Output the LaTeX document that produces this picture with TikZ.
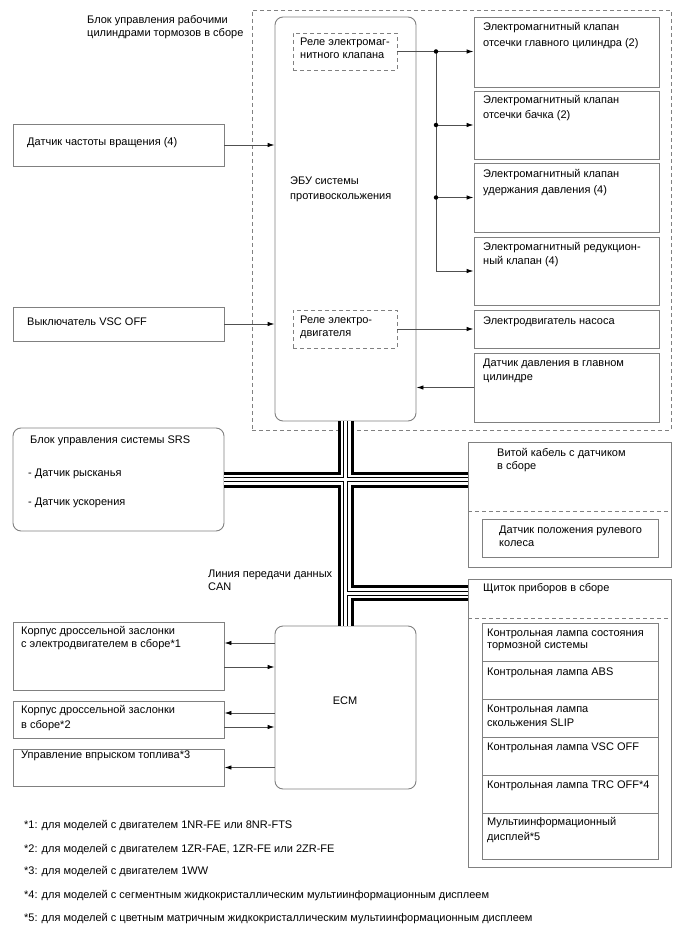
\documentclass[tikz,border=0pt]{standalone}
\usepackage{fontspec}
\setmainfont{Liberation Sans}
\usetikzlibrary{arrows.meta,fit}
\definecolor{boxgray}{HTML}{808080}
\definecolor{linegray}{HTML}{505050}
\begin{document}
\begin{tikzpicture}[x=1pt,y=-1pt,
  box/.style={draw=boxgray, line width=0.9pt, inner sep=0pt, rectangle},
  rbox/.style={box, rounded corners=8pt},
  dbox/.style={draw=boxgray, line width=0.9pt, dash pattern=on 4pt off 3pt, inner sep=0pt, rectangle},
  sep/.style={draw=boxgray, line width=0.9pt, dash pattern=on 4pt off 3pt},
  txt/.style={inner sep=0pt, anchor=north west, align=left, font=\fontsize{11}{13}\selectfont},
  conn/.style={draw=linegray, line width=0.9pt},
  arr/.style={conn, -{Latex[length=7pt,width=4.5pt,color=black]}},
  dot/.style={circle, fill=black, inner sep=0pt, minimum size=4.5pt},
]
\useasboundingbox (0,0) rectangle (688,949);

% ---- brake actuator group ----
\node[txt] (title) at (87,15.5) {Блок управления рабочими\\цилиндрами тормозов в сборе};
\node[dbox, fit={(252,10) (671,430)}] (actuator) {};
\node[rbox, fit={(275,17) (416,421)}] (ecu) {};
\node[txt, font=\fontsize{11}{15}\selectfont] (ecutxt) at (290,176.5) {ЭБУ системы\\противоскольжения};
\node[dbox, fit={(293,33) (397,70)}] (relay1) {};
\node[txt, font=\fontsize{11}{12.5}\selectfont] (relay1txt) at (300,38) {Реле электромаг-\\нитного клапана};
\node[dbox, fit={(293,310) (397,348)}] (relay2) {};
\node[txt] (relay2txt) at (300,315.5) {Реле электро-\\двигателя};

\node[box, fit={(474,17) (659,87)}] (r1) {};
\node[txt, font=\fontsize{11}{16}\selectfont] (r1txt) at (483,22.5) {Электромагнитный клапан\\отсечки главного цилиндра (2)};
\node[box, fit={(474,91) (659,159)}] (r2) {};
\node[txt, font=\fontsize{11}{15}\selectfont] (r2txt) at (483,95.5) {Электромагнитный клапан\\отсечки бачка (2)};
\node[box, fit={(474,163) (659,232)}] (r3) {};
\node[txt, font=\fontsize{11}{16}\selectfont] (r3txt) at (483,169.5) {Электромагнитный клапан\\удержания давления (4)};
\node[box, fit={(474,237) (659,305)}] (r4) {};
\node[txt, font=\fontsize{11}{14}\selectfont] (r4txt) at (483,242.5) {Электромагнитный редукцион-\\ный клапан (4)};
\node[box, fit={(474,310) (659,348)}] (r5) {};
\node[txt] (r5txt) at (483,316.5) {Электродвигатель насоса};
\node[box, fit={(474,353) (659,422)}] (r6) {};
\node[txt, font=\fontsize{11}{14}\selectfont] (r6txt) at (483,358.5) {Датчик давления в главном\\цилиндре};

% ---- left inputs ----
\node[box, fit={(13,124) (224,166)}] (sensor) {};
\node[txt] (sensortxt) at (27,137.5) {Датчик частоты вращения (4)};
\node[box, fit={(13,307) (224,341)}] (vsc) {};
\node[txt] (vsctxt) at (27,317.5) {Выключатель VSC OFF};
\node[rbox, fit={(13,428) (224,531)}] (srs) {};
\node[txt] (srstxt1) at (30,435.5) {Блок управления системы SRS};
\node[txt] (srstxt2) at (28,468.5) {- Датчик рысканья};
\node[txt] (srstxt3) at (28,497.5) {- Датчик ускорения};

% ---- engine side ----
\node[box, fit={(13,622) (224,690)}] (thr1) {};
\node[txt] (thr1txt) at (21,626.5) {Корпус дроссельной заслонки\\с электродвигателем в сборе*1};
\node[box, fit={(13,701) (224,738)}] (thr2) {};
\node[txt, font=\fontsize{11}{15}\selectfont] (thr2txt) at (21,705.5) {Корпус дроссельной заслонки\\в сборе*2};
\node[box, fit={(13,749) (224,786)}] (inj) {};
\node[txt] (injtxt) at (21,750.5) {Управление впрыском топлива*3};
\node[rbox, fit={(275,626) (416,789)}] (ecm) {};
\node[inner sep=0pt, font=\fontsize{11}{13}\selectfont] (ecmtxt) at (345,701) {ECM};

% ---- right lower ----
\node[box, fit={(468,442) (671,567)}] (spiral) {};
\node[txt] (spiraltxt) at (497,448.5) {Витой кабель с датчиком\\в сборе};
\coordinate (s1) at (468,511);
\coordinate (s2) at (671,511);
\draw[sep] (s1) -- (s2);
\node[box, fit={(482,519) (658,557)}] (steer) {};
\node[txt] (steertxt) at (499,525.5) {Датчик положения рулевого\\колеса};

\node[box, fit={(468,579) (671,867)}] (cluster) {};
\node[txt] (clustertxt) at (483,583.5) {Щиток приборов в сборе};
\coordinate (c1) at (468,618);
\coordinate (c2) at (671,618);
\draw[sep] (c1) -- (c2);
\node[box, fit={(482,623) (658,661)}] (l1) {};
\node[txt, font=\fontsize{11}{12.5}\selectfont] (l1txt) at (487,628.5) {Контрольная лампа состояния\\тормозной системы};
\node[box, fit={(482,661) (658,699)}] (l2) {};
\node[txt] (l2txt) at (487,667.5) {Контрольная лампа ABS};
\node[box, fit={(482,699) (658,737)}] (l3) {};
\node[txt, font=\fontsize{11}{14}\selectfont] (l3txt) at (487,704.5) {Контрольная лампа\\скольжения SLIP};
\node[box, fit={(482,737) (658,775)}] (l4) {};
\node[txt] (l4txt) at (487,742.5) {Контрольная лампа VSC OFF};
\node[box, fit={(482,775) (658,813)}] (l5) {};
\node[txt] (l5txt) at (487,780.5) {Контрольная лампа TRC OFF*4};
\node[box, fit={(482,813) (658,859)}] (l6) {};
\node[txt, font=\fontsize{11}{15}\selectfont] (l6txt) at (487,817.5) {Мультиинформационный\\дисплей*5};

\node[txt] (cantxt) at (208,569.5) {Линия передачи данных\\CAN};

% ---- footnotes ----
\node[txt] (f1) at (24,820.5) {*1: для моделей с двигателем 1NR-FE или 8NR-FTS};
\node[txt] (f2) at (24,844.5) {*2: для моделей с двигателем 1ZR-FAE, 1ZR-FE или 2ZR-FE};
\node[txt] (f3) at (24,866.5) {*3: для моделей с двигателем 1WW};
\node[txt] (f4) at (24,890.5) {*4: для моделей с сегментным жидкокристаллическим мультиинформационным дисплеем};
\node[txt] (f5) at (24,913.5) {*5: для моделей с цветным матричным жидкокристаллическим мультиинформационным дисплеем};

% ---- connectors ----
\draw[arr] (sensor.east) -- (sensor.east -| ecu.west);
\draw[arr] (vsc.east) -- (vsc.east -| ecu.west);
\draw[arr] (relay1.east) -- (relay1.east -| r1.west);
\coordinate (j1) at (436,51.5);
\draw[arr] (j1) |- (r4.west);
\draw[arr] (j1 |- r2.west) -- (r2.west);
\draw[arr] (j1 |- r3.west) -- (r3.west);
\node[dot] (d1) at (j1) {};
\node[dot] (d2) at (j1 |- r2.west) {};
\node[dot] (d3) at (j1 |- r3.west) {};
\draw[arr] (relay2.east) -- (relay2.east -| r5.west);
\draw[arr] (r6.west) -- (r6.west -| ecu.east);

\coordinate (e1) at (0,643);
\coordinate (e2) at (0,667);
\coordinate (e3) at (0,713);
\coordinate (e4) at (0,727);
\draw[arr] (ecm.west |- e1) -- (thr1.east |- e1);
\draw[arr] (thr1.east |- e2) -- (ecm.west |- e2);
\draw[arr] (ecm.west |- e3) -- (thr2.east |- e3);
\draw[arr] (thr2.east |- e4) -- (ecm.west |- e4);
\draw[arr] (inj.east -| ecm.west) -- (inj.east);

% ---- CAN bus ----
\coordinate (cl) at (345.5,593);
\foreach \w/\c in {16/black,10/white,5/black,3/white}{
  \draw[line width=\w pt, \c] (ecu.south) -- (ecm.north);
  \draw[line width=\w pt, \c] (srs.east) -- (srs.east -| spiral.west);
  \draw[line width=\w pt, \c] (cl) -- (cl -| cluster.west);
}
\end{tikzpicture}
\end{document}
